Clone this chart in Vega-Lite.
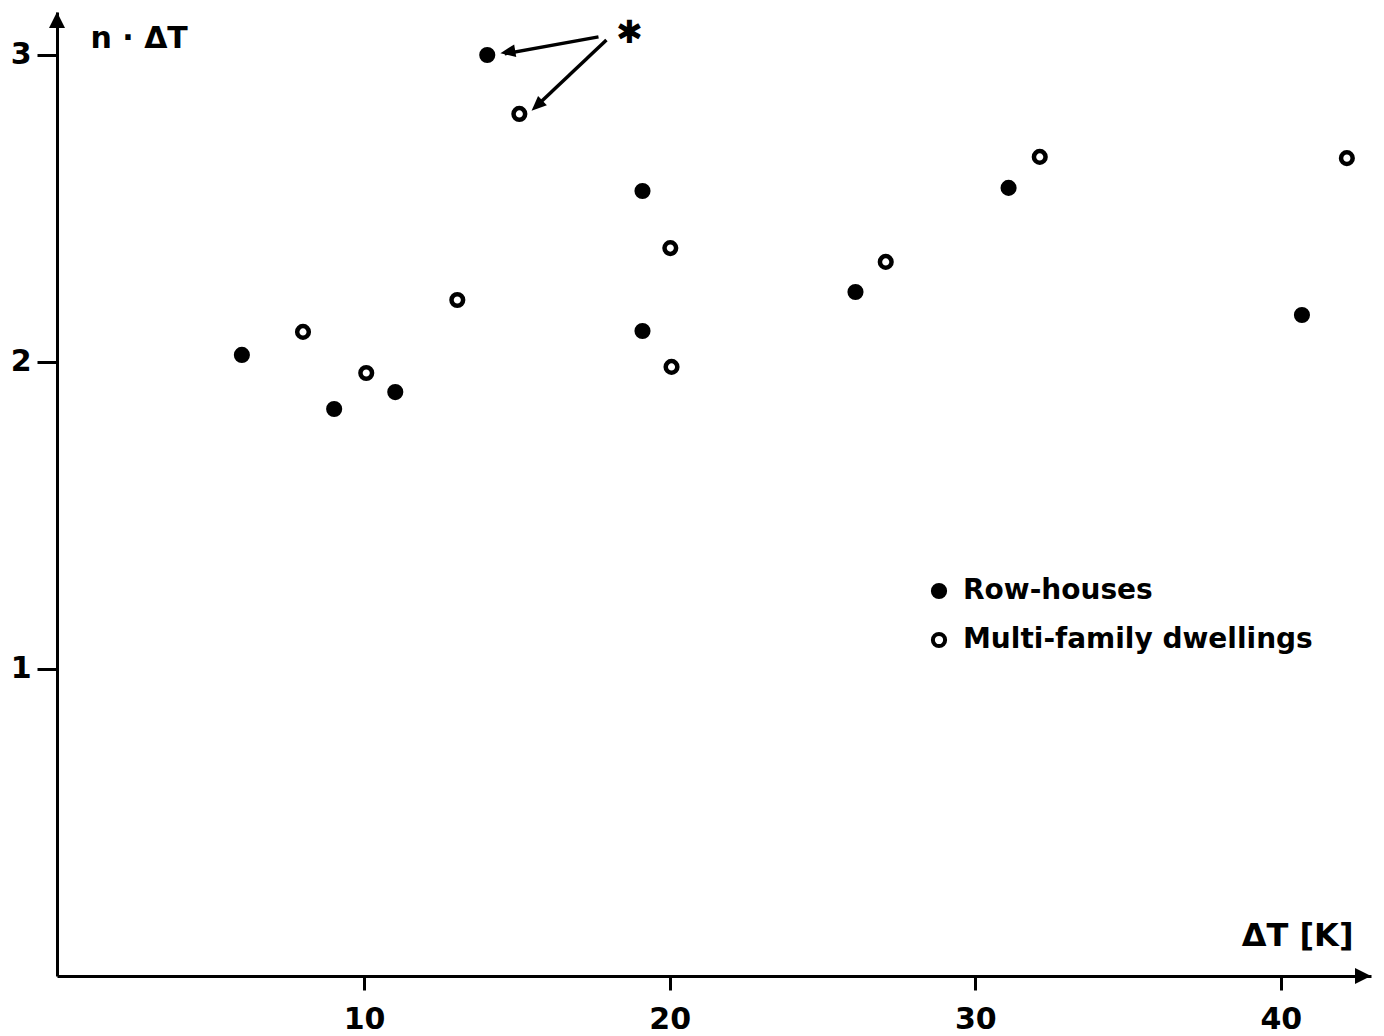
{
  "$schema": "https://vega.github.io/schema/vega-lite/v6.json",
  "width": 1314,
  "height": 964,
  "autosize": {"type": "none"},
  "padding": {"left": 57, "top": 12, "right": 13, "bottom": 60},
  "background": "white",
  "config": {"view": {"stroke": null}, "font": "DejaVu Sans"},
  "datasets": {
    "points": [
      {"dT": 6.0, "nDT": 2.023, "type": "Row-houses"},
      {"dT": 9.02, "nDT": 1.847, "type": "Row-houses"},
      {"dT": 11.02, "nDT": 1.902, "type": "Row-houses"},
      {"dT": 14.03, "nDT": 3.0, "type": "Row-houses"},
      {"dT": 19.11, "nDT": 2.557, "type": "Row-houses"},
      {"dT": 19.11, "nDT": 2.101, "type": "Row-houses"},
      {"dT": 26.08, "nDT": 2.228, "type": "Row-houses"},
      {"dT": 31.09, "nDT": 2.567, "type": "Row-houses"},
      {"dT": 40.69, "nDT": 2.153, "type": "Row-houses"},
      {"dT": 8.0, "nDT": 2.098, "type": "Multi-family dwellings"},
      {"dT": 10.07, "nDT": 1.964, "type": "Multi-family dwellings"},
      {"dT": 13.05, "nDT": 2.202, "type": "Multi-family dwellings"},
      {"dT": 15.08, "nDT": 2.808, "type": "Multi-family dwellings"},
      {"dT": 20.02, "nDT": 2.371, "type": "Multi-family dwellings"},
      {"dT": 20.06, "nDT": 1.984, "type": "Multi-family dwellings"},
      {"dT": 27.07, "nDT": 2.326, "type": "Multi-family dwellings"},
      {"dT": 32.11, "nDT": 2.668, "type": "Multi-family dwellings"},
      {"dT": 42.16, "nDT": 2.664, "type": "Multi-family dwellings"}
    ],
    "arrows": [
      {"dT": 17.67, "nDT": 3.059, "dT2": 14.6, "nDT2": 3.004},
      {"dT": 17.93, "nDT": 3.049, "dT2": 15.6, "nDT2": 2.83}
    ],
    "head1": [{"dT": 14.46, "nDT": 3.006}],
    "head2": [{"dT": 15.48, "nDT": 2.818}],
    "star": [{"dT": 18.68, "nDT": 3.072, "label": "✱"}],
    "xEnd": [{"dT": 42.95, "nDT": 0}],
    "yEnd": [{"dT": -0.05, "nDT": 3.14}]
  },
  "encoding": {
    "x": {
      "field": "dT",
      "type": "quantitative",
      "scale": {"domain": [-0.05, 42.95], "nice": false, "zero": false},
      "axis": {
        "values": [10, 20, 30, 40],
        "grid": false,
        "domainColor": "black",
        "domainWidth": 3,
        "tickColor": "black",
        "tickWidth": 3,
        "tickSize": 14,
        "labelFontSize": 30,
        "labelFontWeight": "bold",
        "labelColor": "black",
        "labelPadding": 14,
        "title": "ΔT [K]",
        "titleFontSize": 32,
        "titleFontWeight": "bold",
        "titleColor": "black",
        "titleAlign": "right",
        "titleBaseline": "middle",
        "titleX": 1296,
        "titleY": -41
      }
    },
    "y": {
      "field": "nDT",
      "type": "quantitative",
      "scale": {"domain": [0, 3.14], "nice": false},
      "axis": {
        "values": [1, 2, 3],
        "grid": false,
        "domainColor": "black",
        "domainWidth": 3,
        "tickColor": "black",
        "tickWidth": 3,
        "tickSize": 20,
        "labelFontSize": 30,
        "labelFontWeight": "bold",
        "labelColor": "black",
        "labelPadding": 6,
        "title": "n · ΔT",
        "titleFontSize": 30,
        "titleFontWeight": "bold",
        "titleColor": "black",
        "titleAngle": 0,
        "titleAlign": "left",
        "titleBaseline": "middle",
        "titleX": 33,
        "titleY": 26
      }
    }
  },
  "layer": [
    {
      "data": {"name": "points"},
      "mark": {"type": "circle", "size": 135, "stroke": "black", "strokeWidth": 4.5, "opacity": 1},
      "encoding": {
        "fill": {
          "field": "type",
          "type": "nominal",
          "scale": {"domain": ["Row-houses", "Multi-family dwellings"], "range": ["black", "white"]},
          "legend": {
            "title": null,
            "orient": "none",
            "legendX": 868,
            "legendY": 565,
            "labelFontSize": 28,
            "labelFontWeight": "bold",
            "labelColor": "black",
            "labelLimit": 0,
            "symbolType": "circle",
            "symbolSize": 150,
            "symbolStrokeWidth": 4,
            "symbolStrokeColor": "black",
            "rowPadding": 19,
            "labelOffset": 10
          }
        }
      }
    },
    {
      "data": {"name": "arrows"},
      "mark": {"type": "rule", "color": "black", "strokeWidth": 3.5},
      "encoding": {"x2": {"field": "dT2"}, "y2": {"field": "nDT2"}}
    },
    {
      "data": {"name": "head1"},
      "mark": {"type": "point", "shape": "M0,0L-0.85,2L0.85,2Z", "size": 225, "filled": true, "color": "black", "opacity": 1, "angle": 260.7},
      "encoding": {}
    },
    {
      "data": {"name": "head2"},
      "mark": {"type": "point", "shape": "M0,0L-0.85,2L0.85,2Z", "size": 225, "filled": true, "color": "black", "opacity": 1, "angle": 226.6},
      "encoding": {}
    },
    {
      "data": {"name": "star"},
      "mark": {"type": "text", "fontSize": 32, "color": "black", "align": "center", "baseline": "middle", "font": "DejaVu Sans"},
      "encoding": {"text": {"field": "label"}}
    },
    {
      "data": {"name": "xEnd"},
      "mark": {"type": "point", "shape": "M0,0L-2,-1L-2,1Z", "size": 256, "filled": true, "color": "black", "opacity": 1, "clip": false},
      "encoding": {}
    },
    {
      "data": {"name": "yEnd"},
      "mark": {"type": "point", "shape": "M0,0L-1,2L1,2Z", "size": 256, "filled": true, "color": "black", "opacity": 1, "clip": false},
      "encoding": {}
    }
  ]
}
